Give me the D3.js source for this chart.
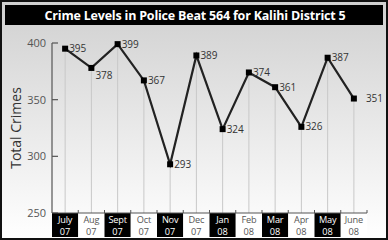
<!DOCTYPE html>
<html>
<head>
<meta charset="utf-8">
<script src="https://cdn.jsdelivr.net/npm/d3@7"></script>
<style>
  body { margin: 0; background: #fff; }
  svg { display: block; font-family: "Open Sans", "Noto Sans", sans-serif; }
</style>
</head>
<body>
<script>
/* Chart data */
var months = ["July", "Aug", "Sept", "Oct", "Nov", "Dec", "Jan", "Feb", "Mar", "Apr", "May", "June"];
var years = ["07", "07", "07", "07", "07", "07", "08", "08", "08", "08", "08", "08"];
var crimes = [395, 378, 399, 367, 293, 389, 324, 374, 361, 326, 387, 351];
var yTicks = [250, 300, 350, 400];

var width = 388, height = 240;
var plotLeft = 52, plotRight = 367, plotTop = 43, plotBottom = 213;

var svg = d3.select("body").append("svg")
  .attr("width", width)
  .attr("height", height);

/* background gradient */
var grad = svg.append("defs").append("linearGradient")
  .attr("id", "bg").attr("x1", 0).attr("y1", 0).attr("x2", 0).attr("y2", 1);
grad.append("stop").attr("offset", "0%").attr("stop-color", "#d0d0d0");
grad.append("stop").attr("offset", "100%").attr("stop-color", "#ffffff");

svg.append("rect")
  .attr("x", 1).attr("y", 1)
  .attr("width", width - 2).attr("height", height - 2)
  .attr("fill", "url(#bg)")
  .attr("stroke", "#111").attr("stroke-width", 2);

/* title bar */
svg.append("rect")
  .attr("x", 5).attr("y", 5).attr("width", 378).attr("height", 20)
  .attr("fill", "#000");
svg.append("text")
  .attr("x", 195).attr("y", 19.5)
  .attr("text-anchor", "middle")
  .attr("fill", "#fff")
  .attr("font-size", 12.5)
  .attr("font-weight", "bold")
  .attr("letter-spacing", -0.2)
  .text("Crime Levels in Police Beat 564 for Kalihi District 5");

/* scales */
var x = d3.scaleBand().domain(months).range([plotLeft, plotRight]);
var y = d3.scaleLinear().domain([250, 400]).range([plotBottom, plotTop]);
var cx = function(d, i) { return x(months[i]) + x.bandwidth() / 2; };

/* vertical grid lines from each point down to the axis */
svg.append("g").selectAll("line")
  .data(crimes).enter().append("line")
  .attr("x1", cx).attr("x2", cx)
  .attr("y1", function(d) { return y(d); })
  .attr("y2", plotBottom)
  .attr("stroke", "#c8c8c8").attr("stroke-width", 1);

/* y axis */
var yAxis = svg.append("g");
yAxis.append("line")
  .attr("x1", plotLeft).attr("x2", plotLeft).attr("y1", plotTop).attr("y2", plotBottom)
  .attr("stroke", "#555").attr("stroke-width", 1.2);
yAxis.selectAll(".tick").data(yTicks).enter().append("line")
  .attr("x1", plotLeft).attr("x2", plotLeft + 6)
  .attr("y1", function(d) { return y(d); })
  .attr("y2", function(d) { return y(d); })
  .attr("stroke", "#555").attr("stroke-width", 1.2);
yAxis.selectAll("text").data(yTicks).enter().append("text")
  .attr("x", plotLeft - 6)
  .attr("y", function(d) { return y(d) + 4; })
  .attr("text-anchor", "end")
  .attr("fill", "#555")
  .attr("font-size", 11)
  .text(function(d) { return d; });

svg.append("text")
  .attr("transform", "translate(21,128) rotate(-90)")
  .attr("text-anchor", "middle")
  .attr("fill", "#333")
  .attr("font-size", 14)
  .text("Total Crimes");

/* month boxes along the bottom */
var boxes = svg.append("g").selectAll("g")
  .data(months).enter().append("g")
  .attr("transform", function(d) { return "translate(" + x(d) + "," + plotBottom + ")"; });
boxes.append("rect")
  .attr("width", x.bandwidth()).attr("height", 24)
  .attr("fill", function(d, i) { return i % 2 ? "#fff" : "#000"; });
boxes.append("text")
  .attr("x", x.bandwidth() / 2).attr("y", 10)
  .attr("text-anchor", "middle")
  .attr("font-size", 9.2)
  .attr("letter-spacing", -0.2)
  .attr("fill", function(d, i) { return i % 2 ? "#555" : "#fff"; })
  .text(function(d) { return d; });
boxes.append("text")
  .attr("x", x.bandwidth() / 2).attr("y", 21.5)
  .attr("text-anchor", "middle")
  .attr("font-size", 9.2)
  .attr("fill", function(d, i) { return i % 2 ? "#555" : "#fff"; })
  .text(function(d, i) { return years[i]; });

/* bottom axis line with small ticks at band edges */
svg.append("line")
  .attr("x1", plotLeft).attr("x2", plotRight).attr("y1", plotBottom).attr("y2", plotBottom)
  .attr("stroke", "#555").attr("stroke-width", 1.2);
svg.append("g").selectAll("line")
  .data(months).enter().append("line")
  .attr("x1", function(d) { return x(d) + x.bandwidth(); })
  .attr("x2", function(d) { return x(d) + x.bandwidth(); })
  .attr("y1", plotBottom).attr("y2", plotBottom - 3)
  .attr("stroke", "#555");

/* data line */
var line = d3.line()
  .x(function(d, i) { return cx(d, i); })
  .y(function(d) { return y(d); });
svg.append("path")
  .datum(crimes)
  .attr("d", line)
  .attr("fill", "none")
  .attr("stroke", "#222")
  .attr("stroke-width", 2.2);

svg.append("g").selectAll("rect")
  .data(crimes).enter().append("rect")
  .attr("x", function(d, i) { return cx(d, i) - 3; })
  .attr("y", function(d) { return y(d) - 3; })
  .attr("width", 6).attr("height", 6)
  .attr("fill", "#000");

/* value labels - most sit to the right, a couple get nudged */
var nudge = { 1: [0, 8], 11: [8, 0] };
svg.append("g").selectAll("text")
  .data(crimes).enter().append("text")
  .attr("x", function(d, i) { return cx(d, i) + 4 + (nudge[i] ? nudge[i][0] : 0); })
  .attr("y", function(d, i) { return y(d) + 3.5 + (nudge[i] ? nudge[i][1] : 0); })
  .attr("fill", "#333")
  .attr("font-size", 10)
  .text(function(d) { return d; });
</script>
</body>
</html>
